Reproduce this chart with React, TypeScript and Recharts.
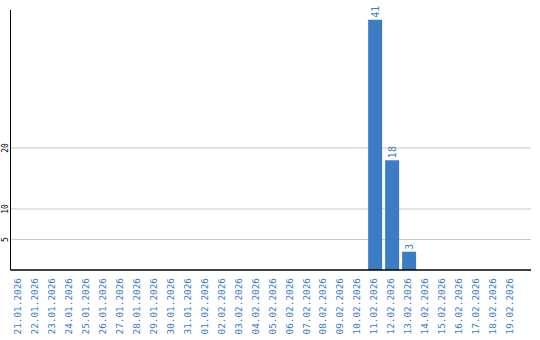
import { Bar, BarChart, CartesianGrid, LabelList, XAxis, YAxis } from "recharts";

const dates = [
  "21.01.2026", "22.01.2026", "23.01.2026", "24.01.2026", "25.01.2026",
  "26.01.2026", "27.01.2026", "28.01.2026", "29.01.2026", "30.01.2026",
  "31.01.2026", "01.02.2026", "02.02.2026", "03.02.2026", "04.02.2026",
  "05.02.2026", "06.02.2026", "07.02.2026", "08.02.2026", "09.02.2026",
  "10.02.2026", "11.02.2026", "12.02.2026", "13.02.2026", "14.02.2026",
  "15.02.2026", "16.02.2026", "17.02.2026", "18.02.2026", "19.02.2026",
];
const counts = [
  0, 0, 0, 0, 0, 0, 0, 0, 0, 0,
  0, 0, 0, 0, 0, 0, 0, 0, 0, 0,
  0, 41, 18, 3, 0, 0, 0, 0, 0, 0,
];
const yTicks = [5, 10, 20];

const data = dates.map((d, i) => ({ date: d, value: counts[i] }));

const blue = "#3b7cc4";
const mono = "'DejaVu Sans Mono', monospace";

const XTick = (props: any) => {
  const { x, y, payload } = props;
  return (
    <text
      x={0}
      y={0}
      transform={`translate(${x - 1.7},${y}) rotate(-90)`}
      textAnchor="end"
      dominantBaseline="central"
      fill={blue}
      fontSize={9.4}
      fontFamily={mono}
    >
      {payload.value}
    </text>
  );
};

const YTick = (props: any) => {
  const { y, payload } = props;
  return (
    <text
      x={0}
      y={0}
      transform={`translate(5,${y}) rotate(-90)`}
      textAnchor="middle"
      dominantBaseline="central"
      fill="#000"
      fontSize={8}
      fontFamily={mono}
    >
      {payload.value}
    </text>
  );
};

const renderValue = (props: any) => {
  const { x, y, width, value } = props;
  if (!value) return null;
  return (
    <text
      x={0}
      y={0}
      transform={`translate(${x + width / 2},${y - 2}) rotate(-90)`}
      textAnchor="start"
      dominantBaseline="central"
      fill={blue}
      fontSize={10}
      fontFamily={mono}
    >
      {value}
    </text>
  );
};

export default function App() {
  return (
    <div style={{ position: "absolute", left: 0, top: 0, background: "#fff" }}>
      <BarChart
        width={540}
        height={340}
        data={data}
        margin={{ top: 10, right: 9, left: 0, bottom: 0 }}
        barCategoryGap={3}
      >
        <CartesianGrid vertical={false} stroke="#c8c8c8" horizontalValues={yTicks} />
        <XAxis
          dataKey="date"
          interval={0}
          height={70}
          tickLine={false}
          axisLine={{ stroke: "#000", strokeWidth: 1.5 }}
          tick={<XTick />}
          padding={{ left: 0, right: 11 }}
        />
        <YAxis
          width={10.5}
          domain={[0, 42.6]}
          ticks={yTicks}
          tickLine={false}
          axisLine={{ stroke: "#000" }}
          tick={<YTick />}
        />
        <Bar dataKey="value" fill={blue} barSize={14} isAnimationActive={false}>
          <LabelList dataKey="value" content={renderValue} />
        </Bar>
      </BarChart>
    </div>
  );
}
